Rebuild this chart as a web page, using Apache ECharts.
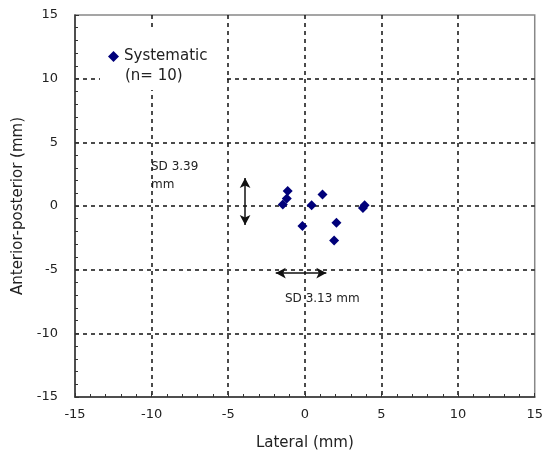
<!DOCTYPE html>
<html>
<head>
<meta charset="utf-8">
<script src="https://cdn.jsdelivr.net/npm/echarts@6/dist/echarts.min.js"></script>
<style>
  html, body { margin: 0; padding: 0; background: #fff; }
  #chart { width: 546px; height: 457px; }
</style>
</head>
<body>
<div id="chart"></div>
<script>
// points: [lateral, anterior-posterior] in mm
const lateral = [-1.12, -1.18, -1.44, 1.15, 0.44, -0.16, 2.06, 1.91, 3.79, 3.90];
const antPost = [1.18, 0.58, 0.11, 0.90, 0.06, -1.57, -1.31, -2.70, -0.16, 0.06];
const axisTicks = [-15, -10, -5, 0, 5, 10, 15];

// SD arrows
const sdVertical = [[-3.9, 2.2], [-3.9, -1.5]];
const sdHorizontal = [[-1.9, -5.27], [1.4, -5.27]];

const font = '"DejaVu Sans", Arial, sans-serif';
const textColor = '#222';

const chartDom = document.getElementById('chart');
const myChart = echarts.init(chartDom);

const points = lateral.map((x, i) => [x, antPost[i]]);

const axisCommon = {
  type: 'value',
  min: axisTicks[0],
  max: axisTicks[axisTicks.length - 1],
  interval: 5,
  nameLocation: 'middle',
  nameTextStyle: { fontFamily: font, fontSize: 15, color: textColor },
  axisLine: { show: true, onZero: false, lineStyle: { color: '#333', width: 1.5 } },
  axisTick: { show: true, inside: true, length: 4, lineStyle: { color: '#333' } },
  minorTick: { show: true, splitNumber: 5, length: 3, lineStyle: { color: '#333' } },
  axisLabel: { fontFamily: font, fontSize: 13, color: textColor },
  splitLine: {
    show: true,
    showMinLine: false,
    showMaxLine: false,
    lineStyle: { color: '#111', type: [4, 4], width: 1.5 }
  }
};

const option = {
  animation: false,
  backgroundColor: '#fff',
  grid: {
    left: 75, right: 8, top: 15, bottom: 60,
    show: true, borderColor: '#888', borderWidth: 1.5, backgroundColor: 'transparent'
  },
  legend: {
    left: 103, top: 44,
    z: 60,
    itemWidth: 11, itemHeight: 11,
    icon: 'diamond',
    textStyle: { fontFamily: font, fontSize: 15, color: textColor },
    data: ['Systematic']
  },
  xAxis: Object.assign({}, axisCommon, {
    name: 'Lateral (mm)',
    nameGap: 39,
    axisLabel: Object.assign({}, axisCommon.axisLabel, { margin: 11 })
  }),
  yAxis: Object.assign({}, axisCommon, {
    name: 'Anterior-posterior (mm)',
    nameGap: 48,
    axisLabel: Object.assign({}, axisCommon.axisLabel, { margin: 17 })
  }),
  series: [
    {
      name: 'Systematic',
      type: 'scatter',
      symbol: 'diamond',
      symbolSize: 10,
      itemStyle: { color: '#00007a', opacity: 1 },
      data: points,
      markLine: {
        silent: true,
        symbol: ['arrow', 'arrow'],
        symbolSize: [8, 10],
        label: { show: false },
        lineStyle: { color: '#111', type: 'solid', width: 1.5 },
        data: [
          [{ coord: sdVertical[0] }, { coord: sdVertical[1] }],
          [{ coord: sdHorizontal[0] }, { coord: sdHorizontal[1] }]
        ]
      }
    }
  ],
  graphic: [
    // white box behind the legend, hides the grid lines there
    { type: 'rect', z: 50, shape: { x: 100, y: 30, width: 126, height: 60 }, style: { fill: '#fff' } },
    { type: 'text', z: 60, left: 125, top: 69, style: { text: '(n= 10)', font: '15px ' + font, fill: textColor } },
    { type: 'text', left: 151, top: 158, style: { text: 'SD 3.39\nmm', font: '12px ' + font, fill: textColor, lineHeight: 18 } },
    { type: 'text', left: 285, top: 293, style: { text: 'SD 3.13 mm', font: '12px ' + font, fill: textColor } }
  ]
};

option && myChart.setOption(option);
</script>
</body>
</html>
